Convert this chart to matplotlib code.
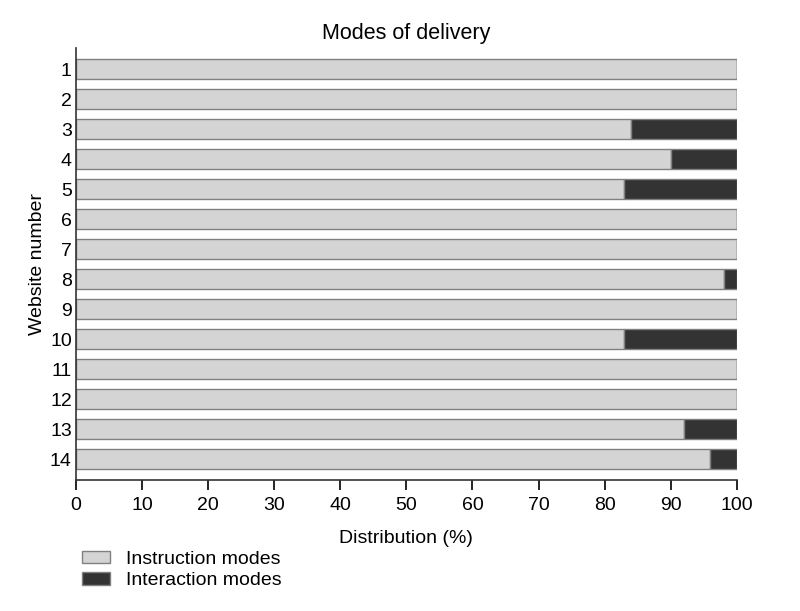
import matplotlib.pyplot as plt
import numpy as np
from matplotlib.patches import Patch

plt.rcParams["font.family"] = ["Liberation Sans", "DejaVu Sans"]

websites = list(range(1, 15))
instruction = [100, 100, 84, 90, 83, 100, 100, 98, 100, 83, 100, 100, 92, 96]
interaction = [0, 0, 16, 10, 17, 0, 0, 2, 0, 17, 0, 0, 8, 4]

light = "#d4d4d4"
dark = "#333333"
edge = "#808080"

fig = plt.figure(figsize=(8.0, 6.11), dpi=100)
ax = fig.add_axes([0.095, 0.214, 0.826, 0.707])

y = np.array(websites)
ax.barh(y, instruction, height=0.68, color=light, edgecolor=edge, linewidth=1.0)
ax.barh(y, interaction, left=instruction, height=0.68, color=dark, edgecolor=edge, linewidth=1.0)

ax.set_ylim(14.7, 0.3)
ax.set_xlim(0, 100)
ax.set_yticks(y)
ax.set_yticklabels([str(w) for w in websites], fontsize=14)
ax.set_xticks(np.arange(0, 101, 10))
ax.tick_params(axis="x", labelsize=14, length=7, width=1.2, direction="out", pad=5)
ax.tick_params(axis="y", length=0, pad=3)
for side in ["top", "right"]:
    ax.spines[side].set_visible(False)
for side in ["left", "bottom"]:
    ax.spines[side].set_linewidth(1.2)
    ax.spines[side].set_color("#333333")

ax.set_title("Modes of delivery", fontsize=15.5, pad=7)
ax.set_xlabel("Distribution (%)", fontsize=14, labelpad=11.5)
ax.set_ylabel("Website number", fontsize=14, labelpad=3)

handles = [
    Patch(facecolor=light, edgecolor=edge, label="Instruction modes"),
    Patch(facecolor=dark, edgecolor=edge, label="Interaction modes"),
]
fig.legend(handles=handles, loc="upper left", bbox_to_anchor=(0.1025, 0.099),
           frameon=False, fontsize=14, handlelength=1.45, handleheight=0.62,
           labelspacing=0.24, handletextpad=0.8, borderpad=0, borderaxespad=0)

fig.savefig("out.png", dpi=100, facecolor="white")
